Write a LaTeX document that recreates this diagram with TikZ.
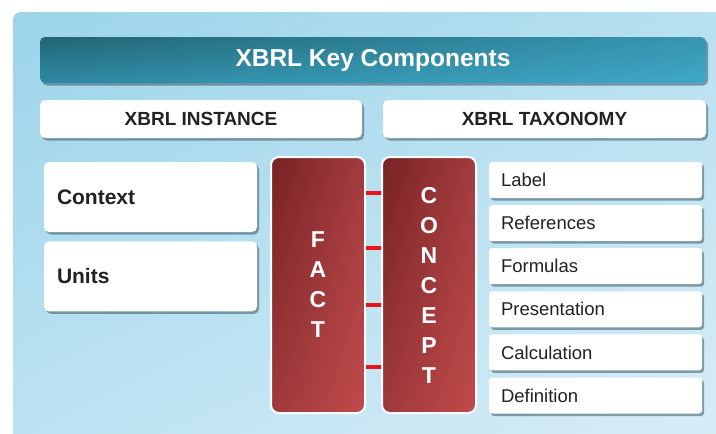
\documentclass[tikz,border=0pt]{standalone}
\usepackage{fontspec}
\setmainfont{Liberation Sans}
\usepackage{tikz}
\usetikzlibrary{positioning,shadows,shadings}

\definecolor{inktext}{HTML}{222222}
\definecolor{linkred}{HTML}{E8141A}
\definecolor{panelA}{HTML}{9CD4EA}
\definecolor{panelB}{HTML}{B8E0F0}
\definecolor{panelC}{HTML}{BEE3F2}
\definecolor{panelD}{HTML}{DAEEF7}
\definecolor{barA}{HTML}{226574}
\definecolor{barB}{HTML}{3896B0}
\definecolor{barC}{HTML}{2F8AA3}
\definecolor{barD}{HTML}{3FA8C8}
\definecolor{redA}{HTML}{782224}
\definecolor{redB}{HTML}{A33C3E}
\definecolor{redC}{HTML}{9E393B}
\definecolor{redD}{HTML}{C24A4B}
\definecolor{shadowblue}{HTML}{3E5866}

\begin{document}
\begin{tikzpicture}[
x=1pt,y=-1pt,
boxshadow/.style={
  drop shadow={shadow xshift=2pt,shadow yshift=-2.5pt,opacity=.55,fill=shadowblue}
  },
topbar/.style={
  rounded corners=5pt,
  minimum width=666,
  minimum height=46,
  upper left=barA,upper right=barB,lower left=barC,lower right=barD,
  boxshadow,
  text=white,
  font=\fontsize{24.5}{28}\selectfont\bfseries
  },
headbox/.style={
  fill=white,
  rounded corners=5pt,
  minimum width=322,
  minimum height=38,
  boxshadow,
  text=inktext,
  font=\fontsize{19}{22}\selectfont\bfseries
  },
leftbox/.style={
  fill=white,
  rounded corners=5pt,
  minimum height=70,
  text width=187,
  inner xsep=13,
  align=left,
  boxshadow,
  text=inktext,
  font=\fontsize{21}{24}\selectfont\bfseries
  },
bigbox/.style={
  draw=white,
  line width=2pt,
  rounded corners=8pt,
  minimum width=94,
  minimum height=256,
  align=center,
  upper left=redA,upper right=redB,lower left=redC,lower right=redD,
  text=white,
  font=\fontsize{23}{30}\selectfont\bfseries
  },
listbox/.style={
  fill=white,
  rounded corners=3pt,
  minimum height=36,
  text width=189,
  inner xsep=12,
  align=left,
  boxshadow,
  text=inktext,
  font=\fontsize{18.5}{21}\selectfont
  },
link/.style={linkred,line width=4pt}
]
\useasboundingbox (0,0) rectangle (716,434);
\fill[white] (0,0) rectangle (716,434);
% light blue panel
\shade[rounded corners=8pt,
  upper left=panelA,upper right=panelB,lower left=panelC,lower right=panelD]
  (13,12) rectangle (740,460);

\node[topbar] (title) at (373,60) {XBRL Key Components};
\node[headbox] (instance) at (201,119) {XBRL INSTANCE};
\node[headbox,minimum width=323] (taxonomy) at (544.5,119) {XBRL TAXONOMY};

\node[leftbox] (context) at (150.5,197) {Context};
\node[leftbox,below=9pt of context] (units) {Units};

\node[bigbox] (fact) at (318,285) {F\\A\\C\\T};
\node[bigbox] (concept) at (429,285) {C\\O\\N\\C\\E\\P\\T};

\foreach \y in {193,248,305,367}
  \draw[link] (fact.east |- 0,\y) -- (concept.west |- 0,\y);

\foreach \Item [count=\i] in {Label,References,Formulas,Presentation,Calculation,Definition}
  \node[listbox] (item\i) at (595.5,{180+43.1*(\i-1)}) {\Item};
\end{tikzpicture}
\end{document}
